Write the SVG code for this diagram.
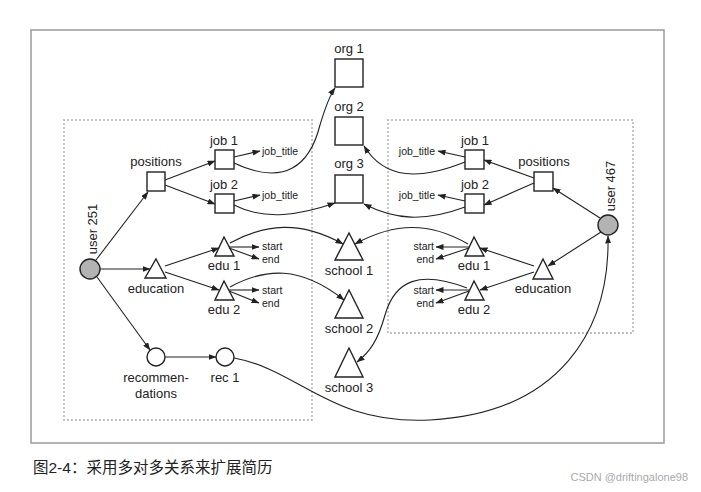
<svg xmlns="http://www.w3.org/2000/svg" width="701" height="492" viewBox="0 0 701 492">
<defs>
<marker id="ah" markerUnits="userSpaceOnUse" markerWidth="8" markerHeight="6" refX="7.5" refY="3" orient="auto">
<path d="M0,0 L8,3 L0,6 z" fill="#222"/>
</marker>
<style>
text{font-family:"Liberation Sans",Arial,sans-serif;fill:#222}
.l{font-size:13px;text-anchor:middle}
.s{font-size:10.5px}
.e{text-anchor:end}
.sh{fill:#fff;stroke:#222;stroke-width:1.4}
.u{fill:#b3b3b3;stroke:#222;stroke-width:1.4}
.c path{fill:none;stroke:#222;stroke-width:1.1;marker-end:url(#ah)}
.dot{fill:none;stroke:#666;stroke-width:1.4;stroke-dasharray:0.1 3.9;stroke-linecap:round}
</style>
</defs>
<rect width="701" height="492" fill="#fff"/>
<rect x="31" y="30" width="633" height="413" fill="none" stroke="#9a9a9a" stroke-width="1.5"/>
<rect class="dot" x="64" y="120" width="248" height="300"/>
<rect class="dot" x="388" y="120" width="245" height="213"/>

<g id="org1"><rect class="sh" x="335" y="59" width="28" height="28"/><text class="l" x="349" y="53">org 1</text></g>
<g id="org2"><rect class="sh" x="335" y="117" width="28" height="28"/><text class="l" x="349" y="111">org 2</text></g>
<g id="org3"><rect class="sh" x="335" y="175" width="28" height="28"/><text class="l" x="349" y="168">org 3</text></g>
<g id="school1"><path class="sh" d="M349,233 L363,260 L335,260 z"/><text class="l" x="349" y="275">school 1</text></g>
<g id="school2"><path class="sh" d="M349,290 L363,318 L335,318 z"/><text class="l" x="349" y="333">school 2</text></g>
<g id="school3"><path class="sh" d="M349,348 L363,377 L335,377 z"/><text class="l" x="349" y="392">school 3</text></g>

<g id="user251"><circle class="u" cx="90" cy="269" r="10"/><text class="l" transform="translate(97,229) rotate(-90)">user 251</text></g>
<g id="positionsL"><rect class="sh" x="147" y="172" width="18" height="19"/><text class="l" x="156" y="166">positions</text></g>
<g id="job1L"><rect class="sh" x="215" y="150" width="19" height="19"/><text class="l" x="224" y="145">job 1</text><text class="s" x="262" y="155">job_title</text></g>
<g id="job2L"><rect class="sh" x="215" y="194" width="19" height="19"/><text class="l" x="224" y="189">job 2</text><text class="s" x="262" y="199">job_title</text></g>
<g id="educationL"><path class="sh" d="M156,259 L166,278 L145,278 z"/><text class="l" x="156" y="293">education</text></g>
<g id="edu1L"><path class="sh" d="M224,237 L234,256 L215,256 z"/><text class="l" x="224" y="270">edu 1</text><text class="s" x="262" y="250">start</text><text class="s" x="262" y="263">end</text></g>
<g id="edu2L"><path class="sh" d="M224,281 L234,300 L215,300 z"/><text class="l" x="224" y="314">edu 2</text><text class="s" x="262" y="294">start</text><text class="s" x="262" y="307">end</text></g>
<g id="recommendations"><circle class="sh" cx="156" cy="357" r="9"/><text class="l" x="156" y="382">recommen-</text><text class="l" x="156" y="398">dations</text></g>
<g id="rec1"><circle class="sh" cx="225" cy="357" r="9"/><text class="l" x="225" y="382">rec 1</text></g>

<g id="user467"><circle class="u" cx="608" cy="225" r="10"/><text class="l" transform="translate(615,186) rotate(-90)">user 467</text></g>
<g id="positionsR"><rect class="sh" x="534" y="172" width="19" height="19"/><text class="l" x="544" y="166">positions</text></g>
<g id="job1R"><rect class="sh" x="465" y="150" width="19" height="19"/><text class="l" x="475" y="145">job 1</text><text class="s e" x="435" y="155">job_title</text></g>
<g id="job2R"><rect class="sh" x="465" y="194" width="19" height="19"/><text class="l" x="475" y="189">job 2</text><text class="s e" x="435" y="199">job_title</text></g>
<g id="educationR"><path class="sh" d="M543,259 L553,279 L533,279 z"/><text class="l" x="543" y="293">education</text></g>
<g id="edu1R"><path class="sh" d="M474,237 L484,256 L465,256 z"/><text class="l" x="474" y="270">edu 1</text><text class="s e" x="434" y="250">start</text><text class="s e" x="434" y="263">end</text></g>
<g id="edu2R"><path class="sh" d="M474,281 L484,300 L465,300 z"/><text class="l" x="474" y="314">edu 2</text><text class="s e" x="434" y="294">start</text><text class="s e" x="434" y="307">end</text></g>

<g id="connectors" class="c">
<path d="M96,260 L148,192"/>
<path d="M100,269 L150,269"/>
<path d="M97,277 L150,350"/>
<path d="M165,180 L215,161"/>
<path d="M165,185 L215,204"/>
<path d="M234,157 L260,151"/>
<path d="M234,201 L260,195"/>
<path d="M234,163 C285,187 310,165 320,125 C326,105 330,95 335,88"/>
<path d="M234,205 C265,221 300,215 335,203"/>
<path d="M165,266 L219,248"/>
<path d="M165,272 L219,290"/>
<path d="M229,247 L259,247"/>
<path d="M229,248 L259,259"/>
<path d="M229,290 L259,290"/>
<path d="M229,291 L259,303"/>
<path d="M230,243 C265,224 300,220 343,244"/>
<path d="M230,287 C265,268 300,265 344,300"/>
<path d="M165,357 L216,357"/>
<path d="M234,358 C300,370 330,425 430,420 C560,413 610,330 608,236"/>
<path d="M600,218 L553,188"/>
<path d="M601,232 L548,266"/>
<path d="M534,178 L484,160"/>
<path d="M534,183 L484,205"/>
<path d="M465,157 L438,151"/>
<path d="M465,201 L438,195"/>
<path d="M465,162 C420,180 385,180 364,146"/>
<path d="M465,207 C425,222 395,220 364,204"/>
<path d="M534,266 L480,248"/>
<path d="M534,272 L480,290"/>
<path d="M469,247 L436,247"/>
<path d="M469,248 L436,259"/>
<path d="M469,290 L436,290"/>
<path d="M469,291 L436,303"/>
<path d="M468,244 C430,222 395,222 355,244"/>
<path d="M467,288 C420,270 395,280 385,315 C378,340 370,352 357,362"/>
</g>

<text x="33" y="473" style="font-family:'Liberation Sans','Noto Sans CJK SC',sans-serif;font-size:15.5px;fill:#222">图2-4：采用多对多关系来扩展简历</text>
<text x="688" y="481" style="font-family:'Liberation Sans',sans-serif;font-size:11px;fill:#aaa;text-anchor:end">CSDN @driftingalone98</text>
</svg>
